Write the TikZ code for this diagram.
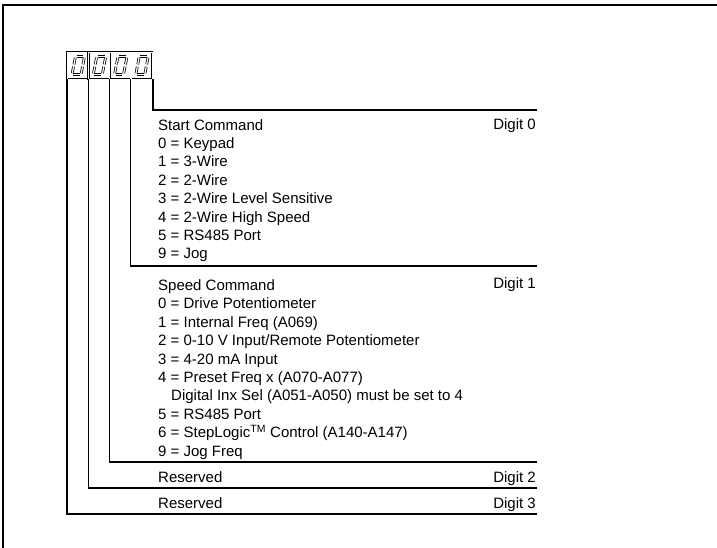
\documentclass[tikz,border=0pt]{standalone}
\usepackage{fontspec}
\setmainfont{Liberation Sans}
\usetikzlibrary{positioning}

\begin{document}
\begin{tikzpicture}[
    x=1bp, y=-1bp,
    frame/.style={line width=2bp},
    rule/.style={line width=1.2bp},
    heavy/.style={line width=2bp},
    entry/.style={font=\fontsize{15bp}{18.4bp}\selectfont,
                  inner sep=0pt, align=left, anchor=base west},
    digitlab/.style={font=\fontsize{15bp}{18.4bp}\selectfont,
                     inner sep=0pt, anchor=base east},
    cell/.style={draw, double=white, double distance=1.2bp, line width=0.5bp,
                 minimum width=21.25bp, minimum height=27bp, inner sep=0pt,
                 anchor=north west},
    seg/.style={draw, double=white, double distance=1.2bp, line width=0.75bp,
                shorten <=1.2bp, shorten >=1.2bp},
    lcdzero/.pic={
      \draw[seg] (8.5,4.5) -- (17.5,4.5);
      \draw[seg] (17.5,4.5) -- (15.75,13.5);
      \draw[seg] (15.75,13.5) -- (14,22.5);
      \draw[seg] (14,22.5) -- (5,22.5);
      \draw[seg] (5,22.5) -- (6.75,13.5);
      \draw[seg] (6.75,13.5) -- (8.5,4.5);
    },
  ]
    \useasboundingbox (0,0) rectangle (717,548);

    % outer frame (top and left only)
    \draw[frame] (3,548) -- (3,5) -- (717,5);

    % digit display, leftmost cell is digit 3
    \node[cell] (c3) at (67,52) {};
    \node[cell] (c2) at (88.25,52) {};
    \node[cell] (c1) at (109.5,52) {};
    \node[cell] (c0) at (130.75,52) {};
    \foreach \c in {c3,c2,c1,c0}
      \pic at (\c.north west) {lcdzero};

    % right ends of the rules
    \coordinate (e0a) at (537,110);
    \coordinate (e0b) at (537,266);
    \coordinate (e1)  at (537,462);
    \coordinate (e2)  at (537,488);
    \coordinate (e3)  at (537,514);

    % Digit 0 (node base = last line)
    \node[entry] (start0) at (158,259)
      {Start Command\\0 = Keypad\\1 = 3-Wire\\2 = 2-Wire\\
       3 = 2-Wire Level Sensitive\\4 = 2-Wire High Speed\\
       5 = RS485 Port\\9 = Jog};
    \node[digitlab] (dig0) at (536,130) {Digit 0};

    % Digit 1
    \node[entry] (speed1) at (158,456)
      {Speed Command\\0 = Drive Potentiometer\\1 = Internal Freq (A069)\\
       2 = 0-10 V Input/Remote Potentiometer\\3 = 4-20 mA Input\\
       4 = Preset Freq x (A070-A077)\\
       \hspace*{13bp}Digital Inx Sel (A051-A050) must be set to 4\\
       5 = RS485 Port\\6 = StepLogic\textsuperscript{TM} Control (A140-A147)\\
       9 = Jog Freq};
    \node[digitlab] (dig1) at (536,288) {Digit 1};

    % Digits 2 and 3
    \node[entry] (res2) at (158,482) {Reserved};
    \node[digitlab] (dig2) at (536,482) {Digit 2};
    \node[entry] (res3) at (158,508) {Reserved};
    \node[digitlab] (dig3) at (536,508) {Digit 3};

    % leaders from the display
    \draw[heavy] (c0.south east) |- (e0a);
    \draw[rule]  (c0.south west) |- (e0b);
    \draw[rule]  (c1.south west) |- (e1);
    \draw[rule]  (c2.south west) |- (e2);
    \draw[heavy] (c3.south west) |- (e3);
\end{tikzpicture}
\end{document}
